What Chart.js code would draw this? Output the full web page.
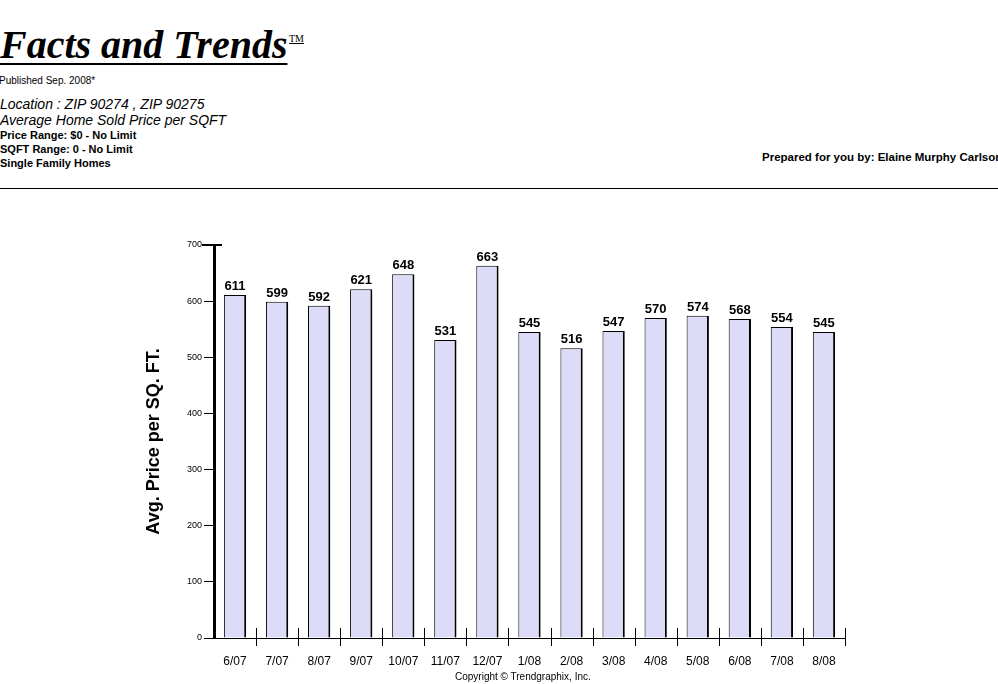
<!DOCTYPE html>
<html>
<head>
<meta charset="utf-8">
<script src="https://cdn.jsdelivr.net/npm/chart.js@4"></script>
<style>
  body { margin: 0; background: #fff; width: 998px; height: 684px; overflow: hidden; position: relative; font-family: "Liberation Sans", Arial, sans-serif; }
  .t { position: absolute; white-space: nowrap; color: #000; }
  #chartBox { position: absolute; left: 0; top: 0; width: 998px; height: 684px; }
</style>
</head>
<body>
<div class="t" style="left:0;top:21px;font:bold italic 40px 'Liberation Serif', 'Times New Roman', serif;text-decoration:underline;text-decoration-thickness:2px;text-underline-offset:5px;">Facts and Trends</div>
<div class="t" style="left:289px;top:33px;font:10px 'Liberation Serif', serif;text-decoration:underline;">TM</div>
<div class="t" style="left:-1px;top:75px;font:10px 'Liberation Sans', Arial;">Published Sep. 2008*</div>
<div class="t" style="left:0;top:96px;font:italic 14px 'Liberation Sans', Arial;">Location : ZIP 90274 , ZIP 90275</div>
<div class="t" style="left:0;top:112px;font:italic 14px 'Liberation Sans', Arial;">Average Home Sold Price per SQFT</div>
<div class="t" style="left:0;top:129px;font:bold 11px 'Liberation Sans', Arial;">Price Range: $0 - No Limit</div>
<div class="t" style="left:0;top:143px;font:bold 11px 'Liberation Sans', Arial;">SQFT Range: 0 - No Limit</div>
<div class="t" style="left:0;top:157px;font:bold 11px 'Liberation Sans', Arial;">Single Family Homes</div>
<div class="t" style="left:762px;top:151px;font:bold 11.5px 'Liberation Sans', Arial;">Prepared for you by: Elaine Murphy Carlson</div>
<div style="position:absolute;left:0;top:188px;width:998px;height:1px;background:#000;"></div>
<div id="chartBox"><canvas id="c" width="998" height="684"></canvas></div>
<div class="t" style="left:455px;top:671px;font:10px 'Liberation Sans', Arial;">Copyright © Trendgraphix, Inc.</div>
<script>
const months = ['6/07', '7/07', '8/07', '9/07', '10/07', '11/07', '12/07', '1/08', '2/08', '3/08', '4/08', '5/08', '6/08', '7/08', '8/08'];
const avgPrice = [611, 599, 592, 621, 648, 531, 663, 545, 516, 547, 570, 574, 568, 554, 545];
const yTicks = [0, 100, 200, 300, 400, 500, 600, 700];

Chart.defaults.font.family = "'Liberation Sans', Arial, sans-serif";
Chart.defaults.color = '#000';

// values printed above each bar
const valueLabels = {
    id: 'valueLabels',
    afterDatasetsDraw(chart) {
        const ctx = chart.ctx;
        const meta = chart.getDatasetMeta(0);
        ctx.save();
        ctx.font = "bold 13px 'Liberation Sans', Arial";
        ctx.fillStyle = '#000';
        ctx.textAlign = 'center';
        ctx.textBaseline = 'bottom';
        meta.data.forEach((bar, i) => {
            ctx.fillText(avgPrice[i], bar.x, bar.y - 2);
        });
        ctx.restore();
    }
};

// x ticks cross the axis line a little
const crossTicks = {
    id: 'crossTicks',
    afterDraw(chart) {
        const ctx = chart.ctx;
        const xs = chart.scales.x;
        const bottom = chart.chartArea.bottom;
        const step = xs.getPixelForTick(1) - xs.getPixelForTick(0);
        ctx.save();
        ctx.strokeStyle = '#000';
        ctx.lineWidth = 1;
        for (let i = 0; i < months.length; i++) {
            const px = Math.round(xs.getPixelForTick(i) + step / 2) + 0.5;
            ctx.beginPath();
            ctx.moveTo(px, bottom - 10);
            ctx.lineTo(px, bottom + 8);
            ctx.stroke();
        }
        // heavier top tick on the value axis
        const ys = chart.scales.y;
        const top = Math.round(ys.getPixelForValue(700));
        ctx.lineWidth = 2;
        ctx.beginPath();
        ctx.moveTo(ys.right - 12, top);
        ctx.lineTo(ys.right + 8, top);
        ctx.stroke();
        ctx.restore();
    }
};

new Chart(document.getElementById('c'), {
    type: 'bar',
    data: {
        labels: months,
        datasets: [{
            data: avgPrice,
            backgroundColor: '#dcdcf8',
            borderColor: '#000',
            borderWidth: { left: 1, right: 2, top: 1, bottom: 1 },
            categoryPercentage: 0.53,
            barPercentage: 1
        }]
    },
    options: {
        responsive: false,
        animation: false,
        layout: { padding: { left: 130, right: 153, top: 245, bottom: 0 } },
        plugins: { legend: { display: false }, tooltip: { enabled: false } },
        scales: {
            x: {
                grid: { display: false, drawOnChartArea: false },
                border: { color: '#000', width: 1 },
                ticks: { font: { size: 12 }, padding: 8, maxRotation: 0 },
                afterFit(scale) { scale.height = 46; }
            },
            y: {
                min: 0,
                max: 700,
                afterBuildTicks(scale) { scale.ticks = yTicks.map(v => ({ value: v })); },
                grid: { drawOnChartArea: false, color: '#000', tickLength: 10, tickWidth: 1 },
                border: { color: '#000', width: 3 },
                ticks: { font: { size: 9 }, padding: 2 },
                title: { display: true, text: 'Avg. Price per SQ. FT.', font: { size: 18, weight: 'bold' }, padding: { top: 13, bottom: 0 } },
                afterFit(scale) { scale.width = 84; }
            }
        }
    },
    plugins: [valueLabels, crossTicks]
});
</script>
</body>
</html>
